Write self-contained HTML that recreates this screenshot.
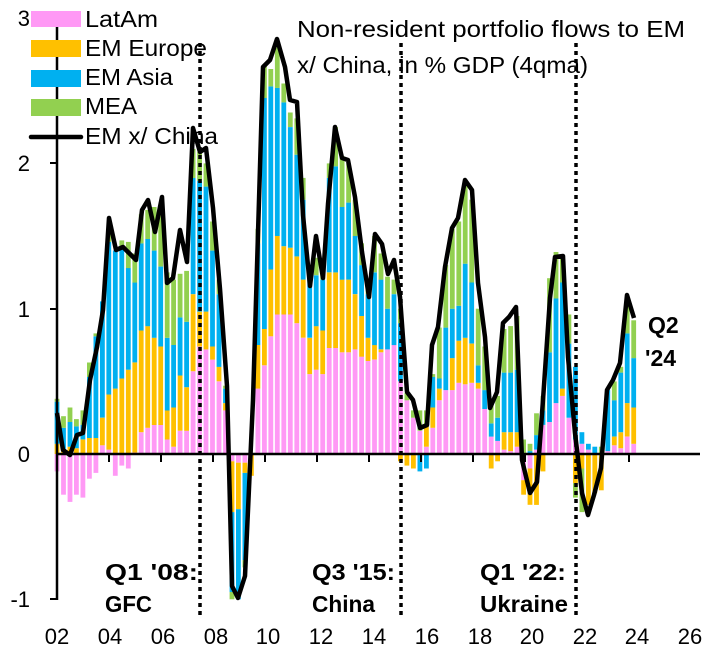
<!DOCTYPE html>
<html><head><meta charset="utf-8"><style>
body{margin:0;background:#fff;}
svg{display:block;font-family:"Liberation Sans",sans-serif;}
</style></head><body>
<svg id="c" width="712" height="652" viewBox="0 0 712 652" xmlns="http://www.w3.org/2000/svg">
<g id="bars"></g>
<line x1="57" y1="454" x2="700" y2="454" stroke="#000" stroke-width="2.5"/>
<g id="ticks" stroke="#000" stroke-width="2"></g>
<line x1="57" y1="18" x2="57" y2="600" stroke="#000" stroke-width="2.5"/>
<g stroke="#000" stroke-width="2">
<line x1="50" y1="18" x2="57" y2="18"/><line x1="50" y1="163" x2="57" y2="163"/>
<line x1="50" y1="309" x2="57" y2="309"/><line x1="50" y1="599" x2="57" y2="599"/>
</g>
<g stroke="#000" stroke-width="3.5" stroke-dasharray="4 4">
<line x1="200" y1="43" x2="200" y2="615"/>
<line x1="401" y1="43" x2="401" y2="615"/>
<line x1="576" y1="43" x2="576" y2="615"/>
</g>
<polyline id="ln" fill="none" stroke="#000" stroke-width="4.5" stroke-linejoin="round"/>
<g font-size="22" fill="#000" text-anchor="end">
<text x="30" y="26">3</text><text x="30" y="171">2</text><text x="30" y="317">1</text>
<text x="30" y="462">0</text><text x="30" y="607">-1</text>
</g>
<g font-size="22" fill="#000" text-anchor="middle">
<text x="57" y="644">02</text><text x="110" y="644">04</text><text x="163" y="644">06</text>
<text x="216" y="644">08</text><text x="268" y="644">10</text><text x="321" y="644">12</text>
<text x="374" y="644">14</text><text x="427" y="644">16</text><text x="480" y="644">18</text>
<text x="532" y="644">20</text><text x="585" y="644">22</text><text x="637" y="644">24</text>
<text x="690" y="644">26</text>
</g>
<rect x="31" y="11" width="50" height="16" fill="#FF99F5"/>
<rect x="31" y="40" width="50" height="17" fill="#FFC000"/>
<rect x="31" y="70" width="50" height="17" fill="#00B0F0"/>
<rect x="31" y="99" width="50" height="17" fill="#92D050"/>
<line x1="31" y1="137" x2="81" y2="137" stroke="#000" stroke-width="4.5" stroke-linecap="round"/>
<g font-size="23" fill="#000">
<text x="85" y="27" textLength="73" lengthAdjust="spacingAndGlyphs">LatAm</text>
<text x="85" y="56" textLength="122" lengthAdjust="spacingAndGlyphs">EM Europe</text>
<text x="85" y="85" textLength="88" lengthAdjust="spacingAndGlyphs">EM Asia</text>
<text x="85" y="114" textLength="52" lengthAdjust="spacingAndGlyphs">MEA</text>
<text x="85" y="144" textLength="133" lengthAdjust="spacingAndGlyphs">EM x/ China</text>
<text x="297" y="37" textLength="388" lengthAdjust="spacingAndGlyphs">Non-resident portfolio flows to EM</text>
<text x="297" y="73" textLength="291" lengthAdjust="spacingAndGlyphs">x/ China, in % GDP (4qma)</text>
</g>
<g font-size="23" font-weight="bold" fill="#000">
<text x="105" y="580" textLength="93" lengthAdjust="spacingAndGlyphs">Q1 '08:</text>
<text x="105" y="612" textLength="47" lengthAdjust="spacingAndGlyphs">GFC</text>
<text x="312" y="580" textLength="83" lengthAdjust="spacingAndGlyphs">Q3 '15:</text>
<text x="312" y="612" textLength="63" lengthAdjust="spacingAndGlyphs">China</text>
<text x="480" y="580" textLength="86" lengthAdjust="spacingAndGlyphs">Q1 '22:</text>
<text x="480" y="612" textLength="88" lengthAdjust="spacingAndGlyphs">Ukraine</text>
<text x="648" y="333">Q2</text><text x="645" y="366">'24</text>
</g>
</svg>
<script>
var D=[[-0.12,0.07,0.29,0.02],[-0.28,0.03,0.15,0.08],[-0.33,0.05,0.17,0.1],[-0.28,0.04,0.15,0.05],[-0.3,0.1,0.1,0.1],[-0.17,0.11,0.42,0.1],[-0.13,0.11,0.7,0.02],[0.06,0.19,0.8,0],[0.03,0.38,1.05,0.05],[-0.15,0.45,0.95,0],
[-0.08,0.52,0.9,0.05],[-0.1,0.58,0.7,0.18],[0.01,0.62,0.55,0.2],[0.15,0.7,0.6,0.2],[0.18,0.7,0.6,0.2],[0.2,0.6,0.6,0.3],[0.2,0.54,0.55,0.4],[0.1,0.2,0.5,0.45],[0.05,0.27,0.43,0.45],[0.16,0.38,0.4,0.3],
[0.16,0.3,0.45,0.35],[0.57,0.53,0.8,0.2],[0.74,0.24,0.9,0.2],[0.72,0.26,0.86,0.16],[0.65,0.09,0.66,0.2],[0.5,0.1,0.5,0.1],[0.3,0.05,0.1,0.02],[-0.05,-0.35,-0.55,-0.05],[-0.06,-0.32,-0.62,0],[-0.06,-0.07,-0.6,-0.05],
[0,-0.15,0,0],[0.45,0.3,0.7,0.1],[0.61,0.25,1.59,0.23],[0.81,0.46,1.26,0.12],[0.96,0.54,1.02,0.28],[0.96,0.47,0.99,0.13],[0.96,0.46,0.83,0.1],[0.9,0.46,0.7,0.25],[0.8,0.4,0.55,0.15],[0.55,0.25,0.4,0.1],
[0.58,0.3,0.35,0.12],[0.55,0.3,0.35,0.1],[0.73,0.52,0.65,0.1],[0.73,0.52,0.73,0.27],[0.7,0.5,0.5,0.35],[0.7,0.5,0.53,0.27],[0.72,0.38,0.4,0.25],[0.67,0.28,0.35,0.15],[0.64,0.16,0.3,0.1],[0.65,0.1,0.5,0.25],
[0.7,0.02,0.48,0.18],[0.72,0,0.28,0.22],[0.75,0,0.35,0.1],[0.5,-0.05,0.4,0.1],[0.37,-0.08,0,0.05],[0.25,-0.1,0,0.05],[0.16,0,-0.12,0.14],[0.05,0.15,-0.1,0.1],[0.18,0.14,0.21,0.02],[0.37,0.08,0.07,0.35],
[0.44,0,0.43,0.43],[0.44,0.22,0.34,0.55],[0.49,0.29,0.24,0.58],[0.48,0.32,0.51,0.54],[0.49,0.27,0.42,0.57],[0.45,0.04,0.12,0.39],[0.31,0,0.13,0.3],[0.12,-0.1,0.09,0.14],[0.09,-0.05,0.16,0.15],[0.03,0.12,0.41,0.3],
[0.02,0.13,0.41,0.32],[0.05,0.1,0.43,0.37],[-0.18,-0.1,0,0.1],[-0.1,-0.25,0.02,0.05],[0.03,-0.35,0.1,0.15],[0.2,-0.12,0.1,0.1],[0.22,0,0.48,0.51],[0.35,0,0.72,0.32],[0.4,0.05,0.73,0.17],[0.25,0,0.51,0.2],
[0.1,-0.2,0.5,-0.1],[0.07,-0.1,0.08,-0.3],[0.03,-0.35,0.04,0],[0,-0.27,0.05,0],[0,-0.25,0,0.05],[0.02,0,0.42,0],[0.06,0.06,0.25,0.13],[0.04,0.11,0.41,0.04],[0.12,0.23,0.48,0.21],[0.07,0.25,0.34,0.26]];
var C=["#FF99F5","#FFC000","#00B0F0","#92D050"],S=145.3,Z=454,h="";
D.forEach(function(d,i){var x=57+6.48*i-2.4,p=0,n=0;
d.forEach(function(v,k){if(v>=0){var y=Z-(p+v)*S;h+='<rect x="'+x.toFixed(1)+'" y="'+y.toFixed(1)+'" width="4.8" height="'+(v*S).toFixed(1)+'" fill="'+C[k]+'"/>';p+=v;}
else{var y2=Z+n*S;h+='<rect x="'+x.toFixed(1)+'" y="'+y2.toFixed(1)+'" width="4.8" height="'+(-v*S).toFixed(1)+'" fill="'+C[k]+'"/>';n-=v;}});});
document.getElementById("bars").innerHTML=h;
var t="";for(var k=1;k<12;k++){var x=57+52*k;t+='<line x1="'+x+'" y1="454" x2="'+x+'" y2="462"/>';}
document.getElementById("ticks").innerHTML=t;
document.getElementById("ln").setAttribute("points","57,413 63,450 70,455 77,435 83,433 90,380 97,347 103,310 109,218 116,250 123,247 129,253 136,260 142,210 148,200 155,232 162,197 167,283 173,278 180,230 187,262 193,128 200,152 206,148 213,208 220,289 227,386 232,586 238,598 245,576 253,400 263,67 270,60 277,39 285,67 290,100 297,102 303,215 310,286 316,236 323,278 328,204 335,127 342,158 348,160 355,197 362,252 369,297 375,234 382,244 388,274 394,260 400,297 407,392 413,400 420,428 427,425 432,345 438,327 445,267 452,228 458,218 465,180 472,190 478,283 485,337 490,408 497,392 503,323 509,317 516,307 522,460 530,493 537,482 543,400 550,298 555,257 563,256 568,357 575,433 582,493 588,515 594,495 601,468 607,390 613,380 620,363 627,295 634,318");
</script>
</body></html>
